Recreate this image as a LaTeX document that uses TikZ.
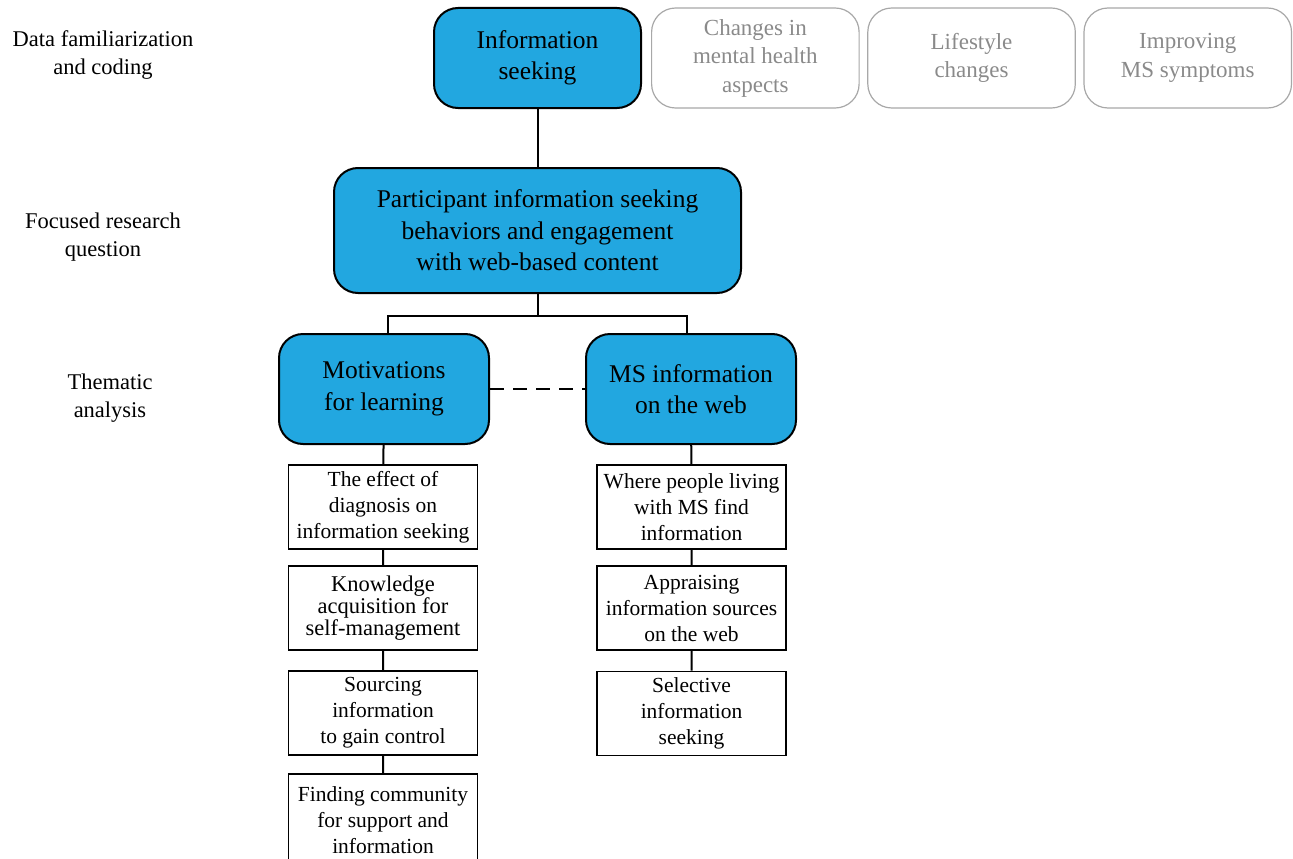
\documentclass[tikz,border=0pt]{standalone}
\usepackage{fontspec}
\setmainfont{Liberation Serif}
\usetikzlibrary{positioning}
\usepackage{xcolor}

\definecolor{themeblue}{HTML}{22A7E0}
\definecolor{codeline}{HTML}{A8A8A8}
\definecolor{codetext}{HTML}{8A8A8A}

\tikzset{
  bluebox/.style={draw, line width=2pt, fill=themeblue, rounded corners=24pt,
    align=center, inner sep=0pt, font=\fontsize{25.5}{31.5}\selectfont},
  greybox/.style={draw=codeline, line width=1.2pt, rounded corners=24pt,
    align=center, inner sep=0pt, text=codetext, minimum width=207.5pt,
    minimum height=100pt, font=\fontsize{23}{28.5}\selectfont},
  subbox/.style={draw, line width=1.8pt, align=center, inner sep=0pt,
    minimum width=189pt, minimum height=84pt, font=\fontsize{21.5}{26}\selectfont},
  stage/.style={align=center, font=\fontsize{22.5}{28.5}\selectfont},
  link/.style={line width=2pt}
}

\begin{document}
\begin{tikzpicture}[x=1pt,y=-1pt]

        \useasboundingbox (0,0) rectangle (1293,859);

        % Stages
        \node[stage] (famil) at (103,55) {Data familiarization\\and coding};
        \node[stage] (focus) at (103,237) {Focused research\\question};
        \node[stage] (thema) at (110,398) {Thematic\\analysis};

        % Codes
        \node[bluebox, minimum width=207pt, minimum height=100pt] (info) at (537.5,58) {Information\\seeking};
        \node[greybox, right=9pt of info] (mental) {Changes in\\mental health\\aspects};
        \node[greybox, right=7.5pt of mental] (life) {Lifestyle\\changes};
        \node[greybox, right=7.5pt of life] (sympt) {Improving\\MS symptoms};

        % Research question
        \node[bluebox, minimum width=407pt, minimum height=125pt] (question) at (537.5,230.5)
          {Participant information seeking\\behaviors and engagement\\with web-based content};

        % Themes
        \node[bluebox, minimum width=210pt, minimum height=110pt] (motiv) at (384,389) {Motivations\\for learning};
        \node[bluebox, minimum width=210pt, minimum height=110pt] (msweb) at (691,389) {MS information\\on the web};

        % Subthemes, left
        \node[subbox] (effect) at (383,507) {The effect of\\diagnosis on\\information seeking};
        \node[subbox, font=\fontsize{22.5}{20}\selectfont] (knowl) at (383,608) {Knowledge\\acquisition for\\self-management};
        \node[subbox] (sourc) at (383,713) {Sourcing\\information\\to gain control};
        \node[subbox, minimum height=92pt] (commu) at (383,820) {Finding community\\for support and\\information};

        % Subthemes, right
        \node[subbox] (where) at (691.5,507) {Where people living\\with MS find\\information};
        \node[subbox] (apprai) at (691.5,608) {Appraising\\information sources\\on the web};
        \node[subbox] (select) at (691.5,713.5) {Selective\\information\\seeking};

        % Links
        \draw[link] (info) -- (question);
        \draw[link] (question.south) -- ++(0,22) coordinate (split);
        \draw[link] ([xshift=4pt]motiv.north) |- (split) -| ([xshift=-4pt]msweb.north);
        \draw[link, dash pattern=on 14pt off 9pt] (motiv) -- (msweb);
        \draw[link] (motiv) -- (effect) -- (knowl) -- (sourc) -- (commu);
        \draw[link] (msweb) -- (where) -- (apprai) -- (select);

    \end{tikzpicture}
\end{document}
